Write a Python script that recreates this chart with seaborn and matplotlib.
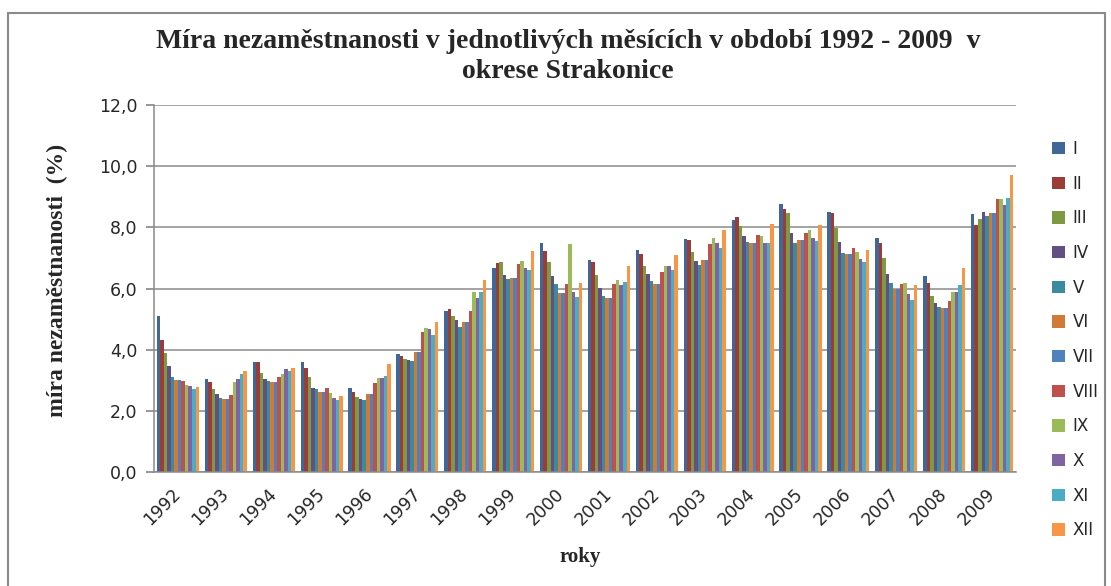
import numpy as np
import pandas as pd
import seaborn as sns
import matplotlib.pyplot as plt
from matplotlib.patches import Rectangle
from matplotlib.ticker import FuncFormatter

# roky a mesice
years = [str(y) for y in range(1992, 2010)]
months = ["I", "II", "III", "IV", "V", "VI", "VII", "VIII", "IX", "X", "XI", "XII"]

m_I = [5.10, 3.04, 3.60, 3.60, 2.74, 3.86, 5.28, 6.66, 7.50, 6.93, 7.27, 7.62, 8.24, 8.75, 8.49, 7.65, 6.40, 8.45]
m_II = [4.32, 2.93, 3.60, 3.39, 2.61, 3.79, 5.33, 6.84, 7.22, 6.87, 7.14, 7.59, 8.33, 8.59, 8.46, 7.50, 6.19, 8.06]
m_III = [3.90, 2.71, 3.24, 3.11, 2.46, 3.68, 5.09, 6.87, 6.87, 6.44, 6.73, 7.20, 8.04, 8.46, 7.99, 7.00, 5.75, 8.28]
m_IV = [3.45, 2.55, 3.05, 2.76, 2.39, 3.65, 4.97, 6.44, 6.40, 6.02, 6.46, 6.90, 7.73, 7.82, 7.53, 6.48, 5.51, 8.51]
m_V = [3.09, 2.42, 2.98, 2.71, 2.37, 3.63, 4.73, 6.30, 6.14, 5.75, 6.25, 6.78, 7.53, 7.50, 7.16, 6.18, 5.39, 8.36]
m_VI = [3.01, 2.40, 2.93, 2.63, 2.54, 3.92, 4.91, 6.33, 5.84, 5.69, 6.16, 6.93, 7.49, 7.58, 7.14, 5.99, 5.36, 8.48]
m_VII = [3.01, 2.40, 2.93, 2.63, 2.54, 3.92, 4.91, 6.33, 5.84, 5.69, 6.16, 6.93, 7.49, 7.58, 7.14, 5.99, 5.36, 8.48]
m_VIII = [2.98, 2.52, 3.12, 2.76, 2.90, 4.58, 5.28, 6.81, 6.14, 6.14, 6.54, 7.46, 7.76, 7.82, 7.32, 6.15, 5.60, 8.92]
m_IX = [2.85, 2.93, 3.21, 2.58, 3.08, 4.70, 5.90, 6.90, 7.46, 6.28, 6.72, 7.65, 7.73, 7.92, 7.19, 6.18, 5.88, 8.92]
m_X = [2.82, 3.03, 3.36, 2.42, 3.08, 4.66, 5.69, 6.68, 5.90, 6.11, 6.72, 7.49, 7.49, 7.65, 6.96, 5.83, 5.90, 8.72]
m_XI = [2.71, 3.21, 3.29, 2.34, 3.14, 4.49, 5.90, 6.62, 5.73, 6.21, 6.61, 7.34, 7.49, 7.56, 6.88, 5.62, 6.11, 8.96]
m_XII = [2.78, 3.30, 3.41, 2.49, 3.53, 4.90, 6.27, 7.22, 6.17, 6.74, 7.11, 7.92, 8.12, 8.08, 7.27, 6.13, 6.67, 9.71]

colors = ["#3F6797", "#9C3C39", "#7D9A42", "#644F82", "#3A8AA0", "#D07A35",
          "#4F81BD", "#C0504D", "#9BBB59", "#8064A2", "#4BACC6", "#F79646"]

series = [m_I, m_II, m_III, m_IV, m_V, m_VI, m_VII, m_VIII, m_IX, m_X, m_XI, m_XII]
rows = []
for m, vals in zip(months, series):
    for y, v in zip(years, vals):
        rows.append({"rok": y, "mesic": m, "hodnota": v})
df = pd.DataFrame(rows)

sns.set_theme(style="white")
plt.rcParams["font.family"] = ["DejaVu Sans"]

W, H = 1111, 586
fig = plt.figure(figsize=(W / 100, H / 100), dpi=100)
ax = fig.add_axes([154 / W, 1 - 472 / H, (1016 - 154) / W, (472 - 105) / H])

sns.barplot(data=df, x="rok", y="hodnota", hue="mesic", order=years,
            hue_order=months, palette=colors, width=0.88, gap=0,
            linewidth=0, saturation=1, ax=ax)

ax.set_ylim(0, 12)
ax.set_yticks(np.arange(0, 12.1, 2))
ax.yaxis.set_major_formatter(FuncFormatter(lambda v, p: f"{v:.1f}".replace(".", ",")))
ax.yaxis.grid(True, color="#8a8a8a", linewidth=1.1)
ax.set_axisbelow(True)
for s in ["top", "right"]:
    ax.spines[s].set_visible(False)
for s in ["left", "bottom"]:
    ax.spines[s].set_color("#8a8a8a")
    ax.spines[s].set_linewidth(1.1)
ax.tick_params(axis="y", length=6, color="#8a8a8a", labelsize=12.5, pad=6, left=True)
ax.tick_params(axis="x", length=0, labelsize=12.5, pad=14)
plt.setp(ax.get_xticklabels(), rotation=45, ha="right", rotation_mode="anchor", va="center")
ax.set_xlabel("")
ax.set_ylabel("")

serif = ["Liberation Serif", "DejaVu Serif"]
fig.text(568 / W, 1 - 42 / H, "Míra nezaměstnanosti v jednotlivých měsících v období 1992 - 2009  v",
         family=serif, weight="bold", fontsize=20, ha="center", va="center")
fig.text(568 / W, 1 - 72 / H, "okrese Strakonice",
         family=serif, weight="bold", fontsize=20, ha="center", va="center")
fig.text(57 / W, 1 - 280 / H, "míra nezaměstnanosti  (%)", family=serif, weight="bold",
         fontsize=17, rotation=90, ha="center", va="center")
fig.text(580 / W, 1 - 557 / H, "roky", family=serif, weight="bold", fontsize=15,
         ha="center", va="center")

leg = ax.legend(loc="upper left", bbox_to_anchor=(1052 / W, 1 - 140 / H),
                bbox_transform=fig.transFigure, frameon=False, fontsize=12,
                handlelength=0.75, handleheight=0.75, handletextpad=0.5,
                labelspacing=1.0, borderaxespad=0, borderpad=0)

fig.patches.append(Rectangle((8 / W, -0.01), (1105 - 8) / W, (586 - 13) / H + 0.01,
                             transform=fig.transFigure, fill=False,
                             edgecolor="#8a8a8a", linewidth=1.5))

fig.savefig("out.png", dpi=100)
